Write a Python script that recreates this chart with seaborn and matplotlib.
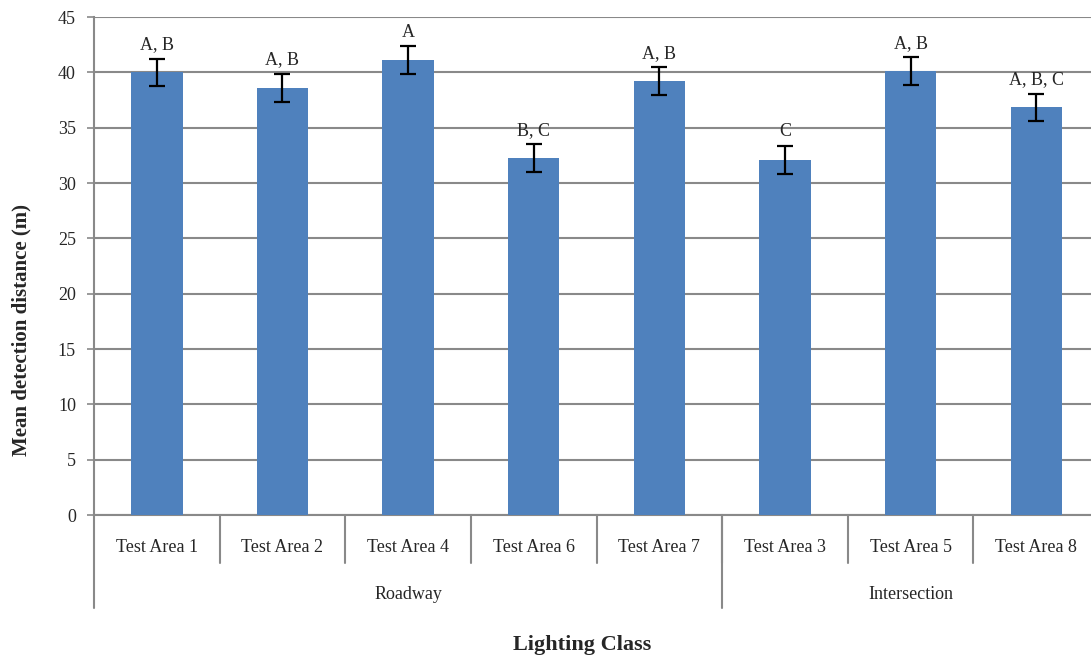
import matplotlib
matplotlib.use('Agg')
import matplotlib.pyplot as plt
import matplotlib.transforms as mtransforms
import seaborn as sns
import pandas as pd
import numpy as np

# Data
areas = ['Test Area 1', 'Test Area 2', 'Test Area 4', 'Test Area 6', 'Test Area 7',
         'Test Area 3', 'Test Area 5', 'Test Area 8']
groups = ['Roadway', 'Roadway', 'Roadway', 'Roadway', 'Roadway',
          'Intersection', 'Intersection', 'Intersection']
means = [40.0, 38.6, 41.1, 32.25, 39.2, 32.1, 40.1, 36.85]
errors = [1.25, 1.25, 1.25, 1.25, 1.25, 1.25, 1.25, 1.2]
letters = ['A, B', 'A, B', 'A', 'B, C', 'A, B', 'C', 'A, B', 'A, B, C']

df = pd.DataFrame({'area': areas, 'group': groups, 'mean': means, 'err': errors})

sns.set_style('white')
plt.rcParams['font.family'] = ['Liberation Serif', 'DejaVu Serif']

fig = plt.figure(figsize=(10.91, 6.57), dpi=100, facecolor='white')
ax_pos = [0.0862, 0.2161, 0.9212, 0.7579]
ax = fig.add_axes(ax_pos)
ax.set_facecolor('white')

grid_col = '#898989'

sns.barplot(data=df, x='area', y='mean', color='#4F81BD', saturation=1,
            width=0.41, errorbar=None, ax=ax, zorder=3, linewidth=0, edgecolor='none')
x = np.arange(len(df))
ax.errorbar(x, df['mean'], yerr=df['err'], fmt='none', ecolor='black',
            elinewidth=1.6, capsize=6, capthick=1.6, zorder=4)

# significance letters above error bars
for i, (m, e, lab) in enumerate(zip(df['mean'], df['err'], letters)):
    ax.annotate(lab, xy=(i, m + e), xytext=(0, 4), textcoords='offset points',
                ha='center', va='bottom', fontsize=13)

ax.set_ylim(0, 45)
ax.set_xlim(-0.5, len(df) - 0.5)
ax.set_yticks(range(0, 46, 5))
ax.yaxis.grid(True, color=grid_col, linewidth=1.5, zorder=0)
ax.set_axisbelow(True)
ax.tick_params(axis='y', labelsize=13, length=5, width=1.2, color=grid_col, pad=8, left=True)
ax.tick_params(axis='x', bottom=False, labelbottom=False)
ax.set_xlabel('')
ax.set_ylabel('')

for side in ['top', 'right']:
    ax.spines[side].set_visible(False)
ax.spines['left'].set_color(grid_col)
ax.spines['left'].set_linewidth(1.5)
ax.spines['bottom'].set_color(grid_col)
ax.spines['bottom'].set_linewidth(1.5)

# multi-level category axis below the plot
trans = mtransforms.blended_transform_factory(ax.transData, ax.transAxes)
ax_h = ax_pos[3] * 6.57 * 100  # axes height in pixels
def yax(px):
    return -px / ax_h

for i, a in enumerate(areas):
    ax.text(i, yax(32), a, transform=trans, ha='center', va='center', fontsize=13)
for k in range(1, len(areas)):
    ax.plot([k - 0.5, k - 0.5], [0, yax(48)], transform=trans, color=grid_col,
            linewidth=1.5, clip_on=False)

# group labels
grp_order = ['Roadway', 'Intersection']
for g in grp_order:
    idx = [i for i, gg in enumerate(groups) if gg == g]
    ax.text((idx[0] + idx[-1]) / 2, yax(79), g, transform=trans, ha='center',
            va='center', fontsize=13)
bounds = [-0.5] + [i + 0.5 for i in range(len(groups) - 1) if groups[i] != groups[i + 1]]
for b in bounds:
    ax.plot([b, b], [0, yax(93)], transform=trans, color=grid_col,
            linewidth=1.5, clip_on=False)

fig.text(0.0195, 0.498, 'Mean detection distance (m)', rotation=90, ha='center',
         va='center', fontsize=15, fontweight='bold')
fig.text(0.534, 0.018, 'Lighting Class', ha='center', va='center',
         fontsize=16, fontweight='bold')

fig.savefig('out.png', dpi=100, facecolor='white')
